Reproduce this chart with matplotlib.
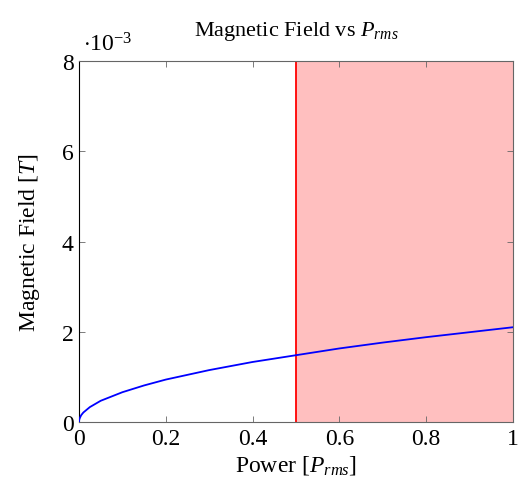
"""Magnetic field vs RMS power, pgfplots-style."""

import matplotlib
matplotlib.use("Agg")
import matplotlib.pyplot as plt

plt.rcParams["font.family"] = "Liberation Serif"
plt.rcParams["mathtext.fontset"] = "custom"
plt.rcParams["mathtext.rm"] = "Liberation Serif"
plt.rcParams["mathtext.it"] = "Liberation Serif:italic"

# Values (field in units of 1e-3 T)
power = [0.0, 0.0005, 0.002, 0.005, 0.01, 0.025, 0.05, 0.1, 0.15, 0.2, 0.3, 0.4, 0.5,
         0.6, 0.7, 0.8, 0.9, 1.0]
field = [0.0, 0.05, 0.09, 0.15, 0.21, 0.33, 0.47, 0.66, 0.81, 0.94, 1.15, 1.33, 1.48,
         1.63, 1.76, 1.88, 1.99, 2.10]
limit = 0.5
xticks = [0, 0.2, 0.4, 0.6, 0.8, 1]
xticklabels = ["0", "0.2", "0.4", "0.6", "0.8", "1"]
yticks = [0, 2, 4, 6, 8]

fig = plt.figure(figsize=(5.18, 4.89), dpi=100)
ax = fig.add_axes([0.1525, 0.135, 0.8375, 0.738])

ax.axvspan(limit, 1.0, color="#ffbfbf", linewidth=0, zorder=0)
ax.axvline(limit, color="#ff0000", linewidth=1.3, zorder=2)
ax.plot(power, field, color="#0000ff", linewidth=1.3, zorder=3)

ax.set_xlim(0, 1)
ax.set_ylim(0, 8)
ax.set_xticks(xticks)
ax.set_xticklabels(xticklabels)
ax.set_yticks(yticks)
ax.tick_params(direction="in", top=True, right=True, labelsize=17,
               length=4, width=0.6, color="#666666", pad=4)
for side in ["top", "bottom", "right"]:
    ax.spines[side].set_color("#666666")
    ax.spines[side].set_linewidth(0.8)
ax.spines["left"].set_color("black")
ax.spines["left"].set_linewidth(0.8)

ax.set_xlabel(r"Power [$P_{rms}$]", fontsize=17, labelpad=3)
ax.set_ylabel(r"Magnetic Field [$T$]", fontsize=17, labelpad=14)
ax.set_title(r"Magnetic Field vs $P_{rms}$", fontsize=16, pad=19)
ax.text(0.01, 1.015, r"$\cdot10^{-3}$", transform=ax.transAxes,
        fontsize=17, ha="left", va="bottom")

fig.savefig("out.png", dpi=100)
